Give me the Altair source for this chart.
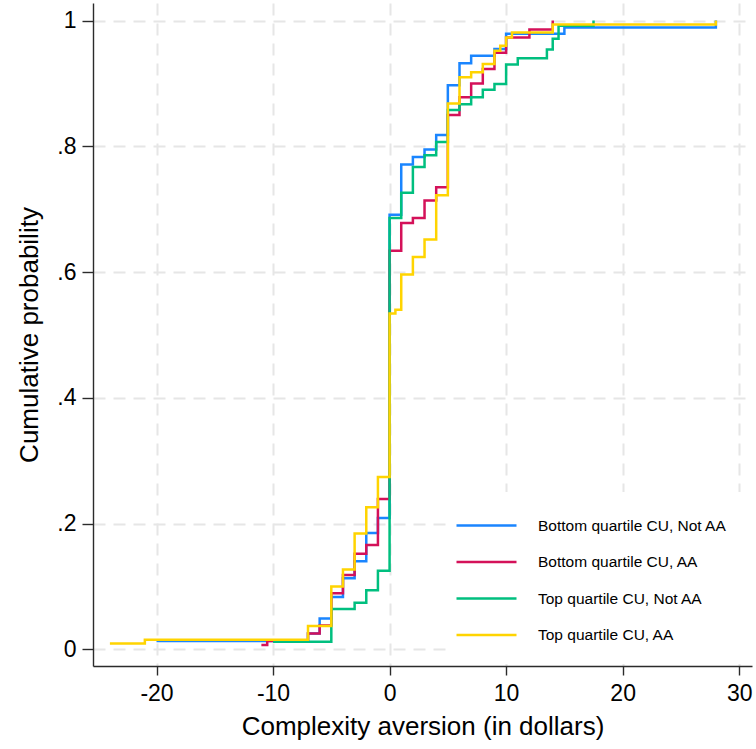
import altair as alt
import pandas as pd

# Group labels and their line colours (drawn in this order, yellow on top)
series_names = [
    "Bottom quartile CU, Not AA",
    "Bottom quartile CU, AA",
    "Top quartile CU, Not AA",
    "Top quartile CU, AA",
]
series_colors = ["#1a85ff", "#d41159", "#00bf7f", "#ffd400"]

# Empirical CDF of complexity aversion: step positions (dollars) and cumulative shares
bottom_not_aa_x = [-20, -7, -6, -5, -4, -3, -2, -1, 0, 1, 2, 3, 4, 5, 6, 7, 9, 10, 15, 28]
bottom_not_aa_p = [0.013, 0.025, 0.049, 0.083, 0.113, 0.140, 0.185, 0.209, 0.691, 0.771,
                   0.783, 0.795, 0.818, 0.897, 0.932, 0.944, 0.955, 0.979, 0.989, 1.0]

bottom_aa_x = [-11, -10.5, -7, -6, -5, -4, -3, -2, -1, 0, 1, 2, 3, 4, 5, 6, 7, 8, 9, 10, 12, 14]
bottom_aa_p = [0.007, 0.013, 0.025, 0.038, 0.089, 0.118, 0.152, 0.166, 0.239, 0.634, 0.678,
               0.686, 0.714, 0.735, 0.850, 0.878, 0.900, 0.923, 0.949, 0.973, 0.986, 1.0]

top_not_aa_x = [-10, -5, -3, -2, -1, 0, 1, 2, 3, 4, 5, 6, 7, 8, 9, 10, 11, 13.5, 14, 14.5, 17.5]
top_not_aa_p = [0.012, 0.064, 0.074, 0.094, 0.125, 0.686, 0.726, 0.767, 0.786, 0.807, 0.858,
                0.867, 0.878, 0.890, 0.899, 0.930, 0.940, 0.954, 0.971, 0.992, 1.0]

top_aa_x = [-24, -21, -7, -5, -4, -3, -2, -1, 0, 0.5, 1, 2, 3, 4, 5, 6, 7, 8, 9, 9.5, 10, 10.5, 14, 28]
top_aa_p = [0.009, 0.015, 0.037, 0.100, 0.127, 0.184, 0.226, 0.274, 0.534, 0.540, 0.596, 0.624,
            0.652, 0.722, 0.868, 0.910, 0.918, 0.931, 0.952, 0.960, 0.973, 0.981, 0.994, 1.0]

x_ticks = [-20, -10, 0, 10, 20, 30]
y_ticks = [0, 0.2, 0.4, 0.6, 0.8, 1]

rows = []
for name, xs, ps in zip(
    series_names,
    [bottom_not_aa_x, bottom_aa_x, top_not_aa_x, top_aa_x],
    [bottom_not_aa_p, bottom_aa_p, top_not_aa_p, top_aa_p],
):
    for i, (x, p) in enumerate(zip(xs, ps)):
        rows.append({"group": name, "aversion": x, "cdf": p, "idx": i})
df = pd.DataFrame(rows)

FONT = "Liberation Sans"
GRID = "#e6e6e6"
AXIS = "#2b2b2b"

chart = (
    alt.Chart(df)
    .mark_line(interpolate="step-after", strokeWidth=2.5)
    .encode(
        x=alt.X(
            "aversion:Q",
            scale=alt.Scale(domain=[-25.45, 31.1], nice=False, zero=False),
            axis=alt.Axis(
                title="Complexity aversion (in dollars)",
                values=x_ticks,
                labelExpr="'' + datum.value",
                grid=True,
                gridColor=GRID,
                gridWidth=2,
                gridDash=[12, 8],
                tickSize=9,
                tickWidth=1.4,
                tickColor=AXIS,
                domainColor=AXIS,
                domainWidth=1.4,
                labelFontSize=23,
                labelPadding=7,
                labelColor="black",
                titleFontSize=26,
                titleFontWeight="normal",
                titleColor="black",
                titlePadding=8,
            ),
        ),
        y=alt.Y(
            "cdf:Q",
            scale=alt.Scale(domain=[-0.0266, 1.028], nice=False, zero=False),
            axis=alt.Axis(
                title="Cumulative probability",
                values=y_ticks,
                labelExpr="datum.value == 0 ? '0' : datum.value == 1 ? '1' : '.' + round(datum.value * 10)",
                grid=True,
                gridColor=GRID,
                gridWidth=2,
                gridDash=[12, 8],
                tickSize=11,
                tickWidth=1.4,
                tickColor=AXIS,
                domainColor=AXIS,
                domainWidth=1.4,
                labelFontSize=23,
                labelPadding=6,
                labelColor="black",
                titleFontSize=26,
                titleFontWeight="normal",
                titleColor="black",
                titlePadding=14,
            ),
        ),
        color=alt.Color(
            "group:N",
            scale=alt.Scale(domain=series_names, range=series_colors),
            sort=series_names,
            legend=alt.Legend(
                title=None,
                orient="none",
                legendX=360,
                legendY=489,
                fillColor="white",
                padding=20,
                symbolType="M-2.5,0H2.5",
                symbolSize=576,
                symbolStrokeWidth=2.5,
                labelFontSize=15.5,
                labelColor="black",
                labelLimit=400,
                labelOffset=38,
                rowPadding=14.5,
            ),
        ),
        order=alt.Order("idx:Q"),
    )
    .properties(
        width=659,
        height=663,
        autosize=alt.AutoSizeParams(type="none"),
        padding={"left": 93, "top": 3, "right": 4, "bottom": 83},
    )
    .configure(font=FONT)
    .configure_view(stroke=None)
)

chart.save("out.html", embed_options={"renderer": "svg", "actions": False})
